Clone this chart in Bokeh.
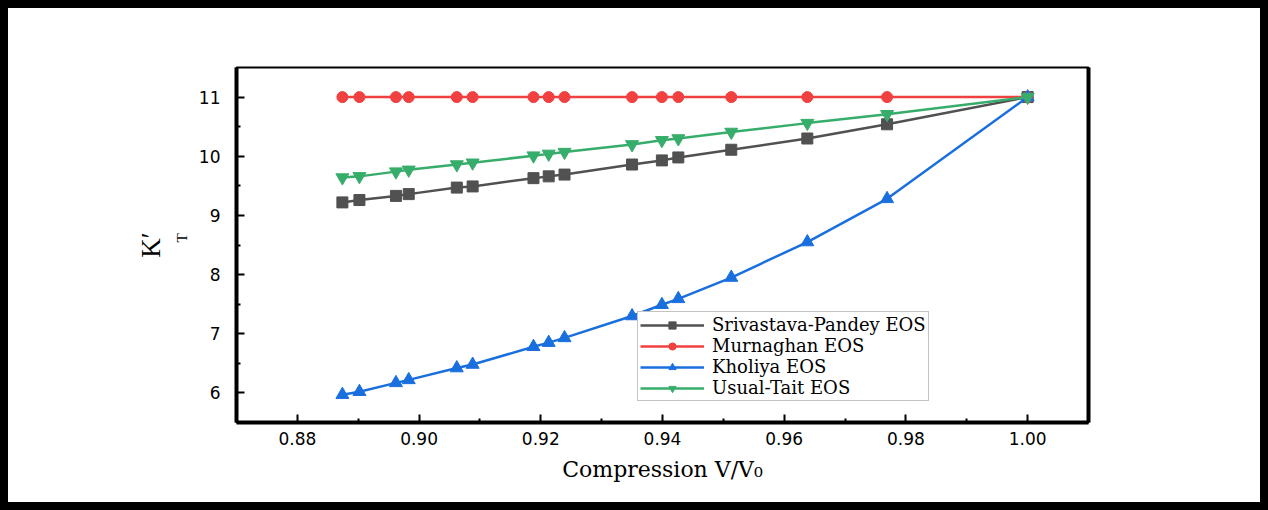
from bokeh.plotting import figure
from bokeh.models import (FixedTicker, NumeralTickFormatter, Legend, LegendItem,
                          LinearAxis, Range1d, Title)
from bokeh.embed import file_html
from bokeh.resources import INLINE

# ---------------- data ----------------
compression = [0.8874, 0.8902, 0.8962, 0.8983, 0.9062, 0.9088, 0.9188, 0.9213,
               0.9239, 0.9350, 0.9399, 0.9426, 0.9513, 0.9638, 0.9769, 1.0]
srivastava_pandey = [9.22, 9.26, 9.33, 9.36, 9.47, 9.49, 9.63, 9.66,
                     9.69, 9.86, 9.93, 9.98, 10.11, 10.30, 10.54, 11.0]
murnaghan = [11.0, 11.0, 11.0, 11.0, 11.0, 11.0, 11.0, 11.0,
             11.0, 11.0, 11.0, 11.0, 11.0, 11.0, 11.0, 11.0]
kholiya = [5.97, 6.02, 6.17, 6.22, 6.42, 6.48, 6.78, 6.85,
           6.93, 7.30, 7.49, 7.59, 7.95, 8.55, 9.28, 11.0]
usual_tait = [9.64, 9.66, 9.74, 9.77, 9.86, 9.89, 10.01, 10.04,
              10.07, 10.20, 10.27, 10.30, 10.41, 10.56, 10.71, 11.0]

series_names = ["Srivastava-Pandey EOS", "Murnaghan EOS", "Kholiya EOS", "Usual-Tait EOS"]
x_ticks = [0.88, 0.90, 0.92, 0.94, 0.96, 0.98, 1.00]
x_minor = [0.89, 0.91, 0.93, 0.95, 0.97, 0.99]
y_ticks = [6, 7, 8, 9, 10, 11]
y_minor = [6.5, 7.5, 8.5, 9.5, 10.5]

colors = ["#515151", "#F14040", "#1A6FDF", "#37AD6B"]
markers = ["square", "circle", "triangle", "inverted_triangle"]
msizes = [11, 11, 13, 13]

p = figure(frame_width=852, frame_height=355,
           min_border_left=228, min_border_right=172,
           min_border_top=59, min_border_bottom=80,
           x_range=Range1d(0.87, 1.01), y_range=Range1d(5.5, 11.5),
           output_backend="svg", toolbar_location=None)
p.styles = {"border": "8px solid black"}
p.background_fill_color = "white"
p.border_fill_color = "white"
p.outline_line_color = "black"
p.outline_line_width = 2
p.xgrid.grid_line_color = None
p.ygrid.grid_line_color = None

for ax in (p.xaxis[0], p.yaxis[0]):
    ax.axis_line_width = 4
    ax.axis_line_color = "black"
    ax.major_tick_in = 8
    ax.major_tick_out = 0
    ax.minor_tick_in = 4
    ax.minor_tick_out = 0
    ax.major_tick_line_width = 2
    ax.minor_tick_line_width = 2
    ax.major_label_text_font = "DejaVu Sans"
    ax.major_label_text_font_size = "17px"
    ax.major_label_text_color = "black"

p.xaxis.ticker = FixedTicker(ticks=x_ticks, minor_ticks=x_minor)
p.xaxis.formatter = NumeralTickFormatter(format="0.00")
p.xaxis.major_label_standoff = 9
p.xaxis.axis_label = "Compression V/V\u2080"
p.xaxis.axis_label_text_font = "DejaVu Serif"
p.xaxis.axis_label_text_font_size = "22px"
p.xaxis.axis_label_text_font_style = "normal"
p.xaxis.axis_label_text_color = "black"
p.xaxis.axis_label_standoff = 9

p.yaxis.ticker = FixedTicker(ticks=y_ticks, minor_ticks=y_minor)
p.yaxis.major_label_standoff = 16
p.yaxis.axis_label = None

right = LinearAxis(axis_line_width=4, ticker=FixedTicker(ticks=[]),
                   major_tick_in=0, major_tick_out=0,
                   minor_tick_in=0, minor_tick_out=0)
p.add_layout(right, "right")

# y-axis title K'_T: subscript T (inner) and K' (outer) as side titles
p.add_layout(Title(text="T", align="left", offset=180, standoff=12,
                   text_font="Liberation Serif", text_font_size="15px",
                   text_font_style="normal", text_color="black"), "left")
p.add_layout(Title(text="K\u2032", align="center", offset=0, standoff=0,
                   text_font="Liberation Serif", text_font_size="27px",
                   text_font_style="normal", text_color="black"), "left")

all_series = [srivastava_pandey, murnaghan, kholiya, usual_tait]
items = []
for name, ys, c, m, s in zip(series_names, all_series, colors, markers, msizes):
    ln = p.line(compression, ys, line_color=c, line_width=2.5)
    sc = p.scatter(compression, ys, marker=m, size=s, fill_color=c, line_color=c)
    items.append(LegendItem(label=name, renderers=[ln, sc]))

legend = Legend(items=items, location=(401, 21))
legend.border_line_color = "#888888"
legend.border_line_width = 1
legend.background_fill_color = "white"
legend.background_fill_alpha = 1
legend.label_text_font = "DejaVu Serif"
legend.label_text_font_size = "18px"
legend.label_text_color = "black"
legend.glyph_width = 64
legend.glyph_height = 18
legend.label_height = 18
legend.spacing = 0
legend.padding = 2
legend.margin = 0
legend.label_standoff = 8
p.add_layout(legend)

open("out.html", "w").write(file_html(p, INLINE))
